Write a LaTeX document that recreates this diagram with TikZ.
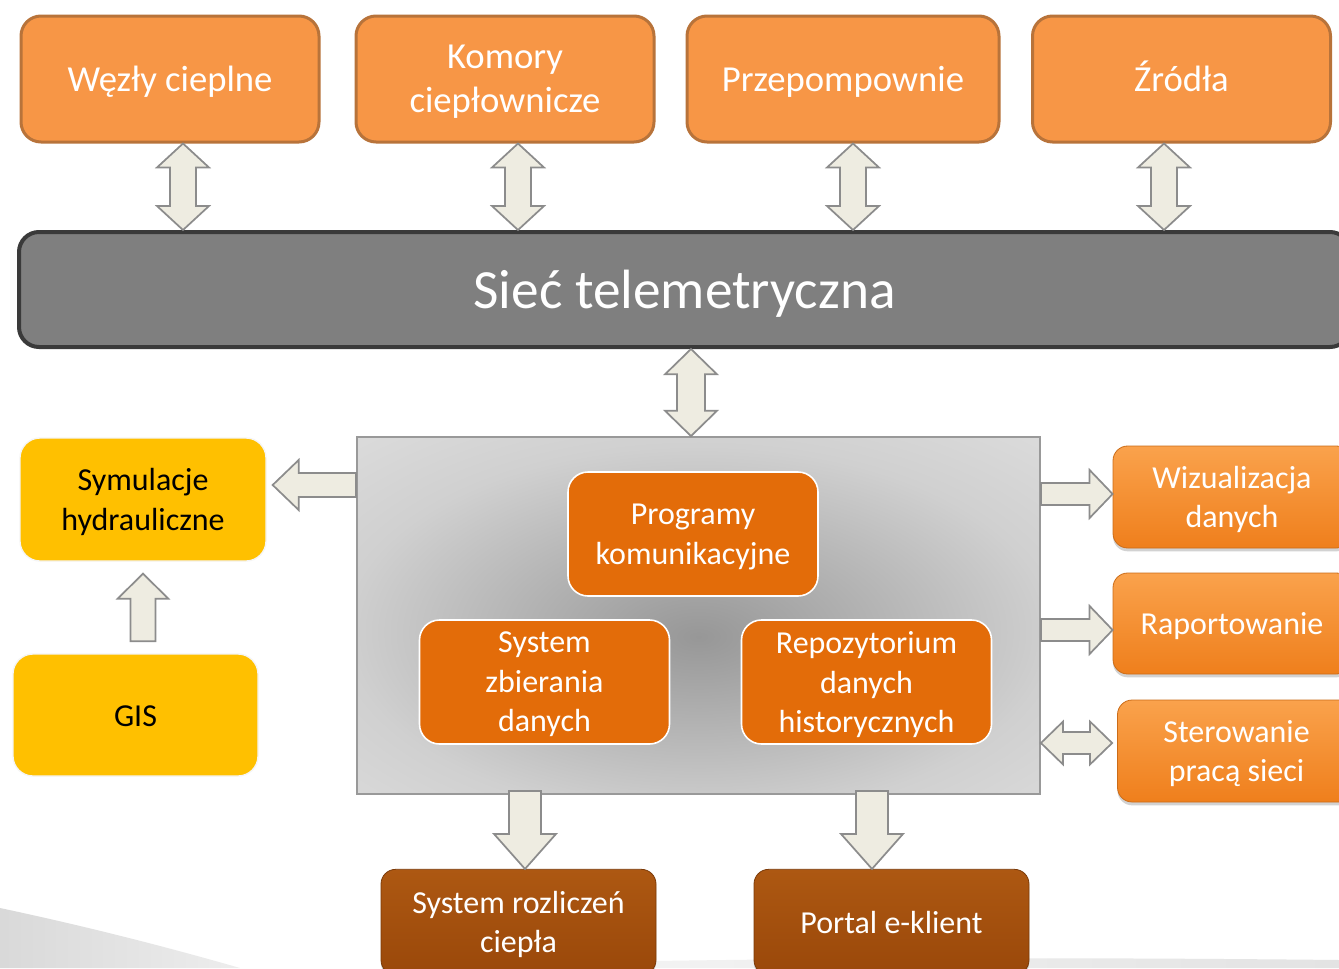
\documentclass[tikz,border=0pt]{standalone}
\usepackage{fontspec}
\setmainfont{Carlito}
\usetikzlibrary{calc,shadows}
\definecolor{topfill}{HTML}{F79646}
\definecolor{topdraw}{HTML}{B8733A}
\definecolor{barfill}{HTML}{7F7F7F}
\definecolor{bardraw}{HTML}{3A3A3A}
\definecolor{arrfill}{HTML}{EEECE1}
\definecolor{arrdraw}{HTML}{8C8C8C}
\definecolor{innerfill}{HTML}{E36C09}
\definecolor{yellowfill}{HTML}{FFC000}
\definecolor{rtop}{HTML}{FAA24C}
\definecolor{rbot}{HTML}{EF7F1C}
\definecolor{btop}{HTML}{AD5812}
\definecolor{bbot}{HTML}{9A480A}
\definecolor{cin}{HTML}{979797}
\definecolor{cmidA}{HTML}{D0D0D0}
\definecolor{cmidB}{HTML}{E6E6E6}
\definecolor{cout}{HTML}{F4F4F4}
\pgfdeclareradialshading{boxshade}{\pgfpoint{0bp}{-3bp}}{color(0bp)=(cin); color(26bp)=(cmidA); color(48bp)=(cmidB); color(56bp)=(cout); color(100bp)=(cout)}
% vertical double arrow: #1 x point, #2 top, #3 bottom, #4 shaft half, #5 head half, #6 head length
\newcommand\vdblarrow[6]{%
  \draw[blockarrow] let \p1=(#2), \p2=(#3), \p3=(#1) in
   (\x3,\y1) -- (\x3+#5,\y1-#6) -- (\x3+#4,\y1-#6) -- (\x3+#4,\y2+#6) -- (\x3+#5,\y2+#6)
   -- (\x3,\y2) -- (\x3-#5,\y2+#6) -- (\x3-#4,\y2+#6) -- (\x3-#4,\y1-#6) -- (\x3-#5,\y1-#6) -- cycle;}
% down single arrow: #1 x point, #2 tail (top), #3 tip (bottom)
\newcommand\downarrowblk[6]{%
  \draw[blockarrow] let \p1=(#2), \p2=(#3), \p3=(#1) in
   (\x3,\y2) -- (\x3+#5,\y2+#6) -- (\x3+#4,\y2+#6) -- (\x3+#4,\y1) -- (\x3-#4,\y1)
   -- (\x3-#4,\y2+#6) -- (\x3-#5,\y2+#6) -- cycle;}
% up single arrow: #1 x point, #2 tail (bottom), #3 tip (top)
\newcommand\uparrowblk[6]{%
  \draw[blockarrow] let \p1=(#2), \p2=(#3), \p3=(#1) in
   (\x3,\y2) -- (\x3+#5,\y2-#6) -- (\x3+#4,\y2-#6) -- (\x3+#4,\y1) -- (\x3-#4,\y1)
   -- (\x3-#4,\y2-#6) -- (\x3-#5,\y2-#6) -- cycle;}
% right single arrow: #1 y point, #2 tail (left), #3 tip (right)
\newcommand\rightarrowblk[6]{%
  \draw[blockarrow] let \p1=(#2), \p2=(#3), \p3=(#1) in
   (\x2,\y3) -- (\x2-#6,\y3-#5) -- (\x2-#6,\y3-#4) -- (\x1,\y3-#4) -- (\x1,\y3+#4)
   -- (\x2-#6,\y3+#4) -- (\x2-#6,\y3+#5) -- cycle;}
% left single arrow: #1 y point, #2 tail (right), #3 tip (left)
\newcommand\leftarrowblk[6]{%
  \draw[blockarrow] let \p1=(#2), \p2=(#3), \p3=(#1) in
   (\x2,\y3) -- (\x2+#6,\y3-#5) -- (\x2+#6,\y3-#4) -- (\x1,\y3-#4) -- (\x1,\y3+#4)
   -- (\x2+#6,\y3+#4) -- (\x2+#6,\y3+#5) -- cycle;}
% horizontal double arrow: #1 y point, #2 left tip, #3 right tip
\newcommand\hdblarrow[6]{%
  \draw[blockarrow] let \p1=(#2), \p2=(#3), \p3=(#1) in
   (\x1,\y3) -- (\x1+#6,\y3-#5) -- (\x1+#6,\y3-#4) -- (\x2-#6,\y3-#4) -- (\x2-#6,\y3-#5)
   -- (\x2,\y3) -- (\x2-#6,\y3+#5) -- (\x2-#6,\y3+#4) -- (\x1+#6,\y3+#4) -- (\x1+#6,\y3+#5) -- cycle;}
\tikzset{
  blockarrow/.style={fill=arrfill, draw=arrdraw, line width=1.3pt, line join=miter},
  topbox/.style={draw=topdraw, fill=topfill, line width=2.25pt, rounded corners=15pt,
    minimum width=223.5pt, minimum height=94.5pt, inner sep=0pt, text=white, align=center,
    text depth=0pt, font=\fontsize{27.5}{33}\selectfont},
  oneline27/.style={text height=19.25pt},
  oneline24/.style={text height=16.8pt},
  barbox/.style={draw=bardraw, fill=barfill, line width=3pt, rounded corners=15pt,
    minimum width=998.25pt, minimum height=86.25pt, inner sep=0pt, text=white,
    text height=29pt, text depth=0pt, font=\fontsize{41.5}{48}\selectfont},
  centrebox/.style={draw=gray!80, line width=1.4pt, shading=boxshade,
    minimum width=512.25pt, minimum height=267.75pt, inner sep=0pt},
  innerbox/.style={draw=white, fill=innerfill, line width=1.2pt, rounded corners=15pt,
    minimum width=187.5pt, minimum height=93pt, inner sep=0pt, text=white, align=center,
    text depth=0pt, font=\fontsize{24}{29.6}\selectfont},
  yellowbox/.style={draw=gray!8, fill=yellowfill, line width=1pt, rounded corners=15pt,
    minimum width=184.5pt, minimum height=92.25pt, inner sep=0pt, text=black, align=center,
    text depth=0pt, font=\fontsize{24}{29.6}\selectfont},
  rightbox/.style={top color=rtop, bottom color=rbot, draw=rbot!85!black, line width=0.6pt,
    rounded corners=11pt, minimum width=178.5pt, minimum height=76.5pt, inner sep=0pt,
    text=white, align=center, text depth=0pt, font=\fontsize{24}{29.6}\selectfont,
    drop shadow={opacity=0.35, shadow xshift=0pt, shadow yshift=-2.5pt}},
  bottombox/.style={top color=btop, bottom color=bbot, draw=bbot!80!black, line width=0.6pt,
    rounded corners=11pt, minimum width=206.25pt, minimum height=79pt, inner sep=0pt,
    text=white, align=center, text depth=0pt, font=\fontsize{24}{29.6}\selectfont,
    drop shadow={opacity=0.35, shadow xshift=0pt, shadow yshift=-2.5pt}}
}
\begin{document}
\begin{tikzpicture}[x=0.75pt,y=-0.75pt]
\useasboundingbox (0,0) rectangle (1339,968);
\fill[white] (0,0) rectangle (1339,968);
% faint background swooshes
\shade[left color=gray!30, right color=gray!14] (0,908) .. controls (80,925) and (160,945) .. (240,968) -- (0,968) -- cycle;
\shade[left color=gray!10, right color=gray!22] (656,961) .. controls (900,957) and (1150,958) .. (1339,960) -- (1339,968) -- (656,968) -- cycle;

% top boxes
\node[topbox, oneline27] (wezly) at (170,79) {Węzły cieplne};
\node[topbox] (komory) at (505,79) {Komory\\ciepłownicze};
\node[topbox, oneline27, minimum width=234pt] (przep) at (843,79) {Przepompownie};
\node[topbox, oneline27] (zrodla) at (1181.5,79) {Źródła};

% telemetry bar
\node[barbox] (siec) at (684.5,289.5) {Sieć telemetryczna};

% central box
\node[centrebox] (centre) at (698.5,615.5) {};
\node[innerbox] (prog) at (693,534) {Programy\\komunikacyjne};
\node[innerbox] (zbier) at (544.5,682) {System\\zbierania\\danych};
\node[innerbox] (repo) at (866.5,682) {Repozytorium\\danych\\historycznych};

% left boxes
\node[yellowbox] (symul) at (143,499.5) {Symulacje\\hydrauliczne};
\node[yellowbox, oneline24, minimum width=183.75pt, minimum height=91.5pt] (gis) at (135.5,715) {GIS};

% right boxes
\node[rightbox] (wiz) at (1232,497) {Wizualizacja\\danych};
\node[rightbox, oneline24, minimum height=75.75pt] (rap) at (1232,623.5) {Raportowanie};
\node[rightbox] (ster) at (1236.5,751) {Sterowanie\\pracą sieci};

% bottom boxes
\node[bottombox] (rozl) at (518.5,922) {System rozliczeń\\ciepła};
\node[bottombox, oneline24] (portal) at (891.5,922) {Portal e-klient};

% arrows top boxes <-> bar
\vdblarrow{183,0}{wezly.south}{siec.north}{9.75pt}{19.5pt}{18pt}
\vdblarrow{518,0}{komory.south}{siec.north}{9.75pt}{19.5pt}{18pt}
\vdblarrow{853,0}{przep.south}{siec.north}{9.75pt}{19.5pt}{18pt}
\vdblarrow{1164,0}{zrodla.south}{siec.north}{9.75pt}{19.5pt}{18pt}
% bar <-> centre
\vdblarrow{691,0}{siec.south}{centre.north}{10.5pt}{19.5pt}{19pt}
% centre -> simulations
\leftarrowblk{0,485}{centre.west}{$(symul.east)+(6,0)$}{9pt}{18.75pt}{19.5pt}
% GIS -> simulations
\uparrowblk{143,0}{$(gis.north)+(0,-12)$}{$(symul.south)+(0,12)$}{9.4pt}{19pt}{18.75pt}
% centre -> right boxes
\rightarrowblk{0,494}{centre.east}{wiz.west}{8.25pt}{18pt}{17.25pt}
\rightarrowblk{0,630}{centre.east}{rap.west}{8.25pt}{18pt}{17.25pt}
\hdblarrow{0,743}{centre.east}{$(ster.west)+(-5,0)$}{8.25pt}{16pt}{16.5pt}
% centre -> bottom boxes
\downarrowblk{525,0}{$(centre.south)+(0,-4)$}{rozl.north}{12pt}{23.25pt}{26.25pt}
\downarrowblk{872,0}{$(centre.south)+(0,-4)$}{portal.north}{12pt}{23.25pt}{26.25pt}
\end{tikzpicture}
\end{document}
